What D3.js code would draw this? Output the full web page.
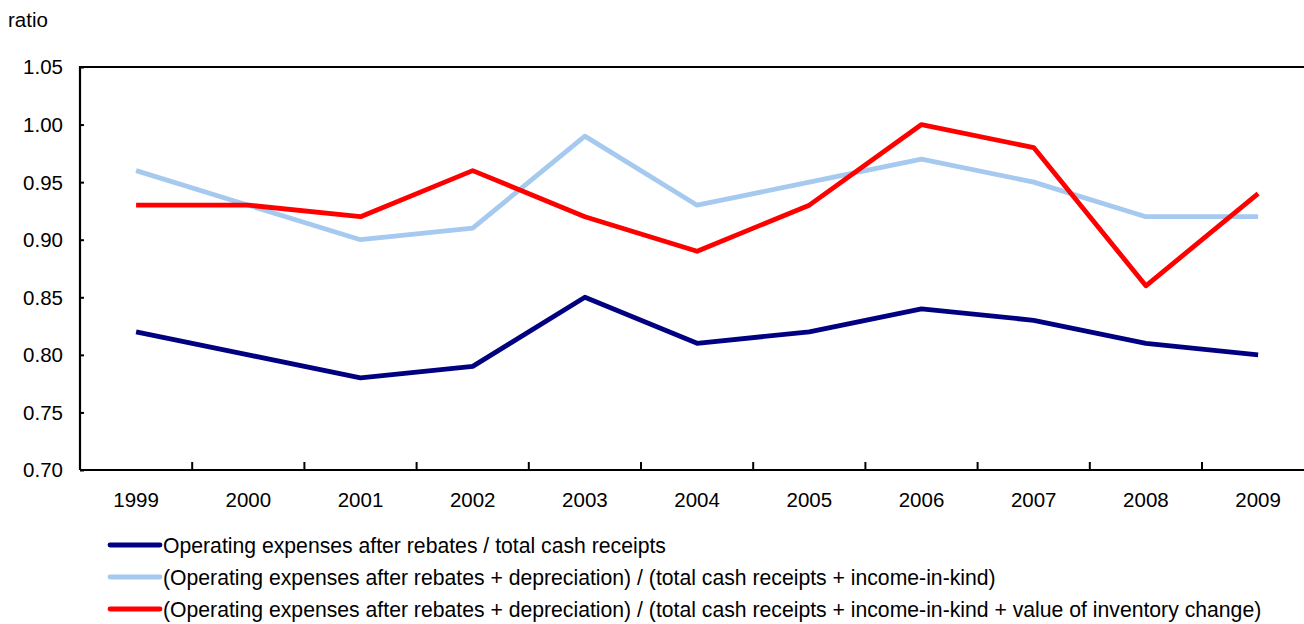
<!DOCTYPE html>
<html>
<head>
<meta charset="utf-8">
<script src="https://cdn.jsdelivr.net/npm/d3@7"></script>
<style>
  body { margin: 0; background: #fff; }
  text { font-family: "Liberation Sans", Arial, sans-serif; fill: #000; }
</style>
</head>
<body>
<svg id="chart" width="1304" height="624"></svg>
<script>
// chart data
const years = ['1999', '2000', '2001', '2002', '2003', '2004', '2005', '2006', '2007', '2008', '2009'];
const opCash = [0.82, 0.80, 0.78, 0.79, 0.85, 0.81, 0.82, 0.84, 0.83, 0.81, 0.80];
const opDepKind = [0.96, 0.93, 0.90, 0.91, 0.99, 0.93, 0.95, 0.97, 0.95, 0.92, 0.92];
const opDepKindInv = [0.93, 0.93, 0.92, 0.96, 0.92, 0.89, 0.93, 1.00, 0.98, 0.86, 0.94];
const yTicks = [0.70, 0.75, 0.80, 0.85, 0.90, 0.95, 1.00, 1.05];

const series = [
  { name: 'Operating expenses after rebates / total cash receipts', values: opCash, color: '#000080' },
  { name: '(Operating expenses after rebates + depreciation) / (total cash receipts + income-in-kind)', values: opDepKind, color: '#a6c9ef' },
  { name: '(Operating expenses after rebates + depreciation) / (total cash receipts + income-in-kind + value of inventory change)', values: opDepKindInv, color: '#ff0000' }
];

const svg = d3.select('#chart');
let fontSize = 20.5,
    legendFontSize = 21.2;

// plot area
let plotLeft = 80,
    plotTop = 67,
    plotBottom = 470,
    bandW = 112.2,
    plotRight = plotLeft + bandW * years.length;

let x = d3.scaleBand().domain(years).range([plotLeft, plotRight]);
let y = d3.scaleLinear().domain([0.70, 1.05]).range([plotBottom, plotTop]);

// frame (right edge falls off the canvas)
svg.append('path')
  .attr('d', `M${plotLeft},${plotBottom}V${plotTop}H${plotRight}`)
  .attr('fill', 'none')
  .attr('stroke', '#000')
  .attr('stroke-width', 2.2);

// y axis
let yAxis = svg.append('g')
  .attr('transform', `translate(${plotLeft},0)`)
  .call(d3.axisRight(y).tickValues(yTicks).tickSize(4).tickFormat(''));
yAxis.select('.domain').remove();
yAxis.selectAll('line').attr('stroke', '#000').attr('stroke-width', 2);

svg.append('g').selectAll('text')
  .data(yTicks)
  .join('text')
  .attr('x', 63)
  .attr('y', d => y(d))
  .attr('dy', '0.36em')
  .attr('text-anchor', 'end')
  .attr('font-size', fontSize)
  .text(d => d.toFixed(2));

// x axis
svg.append('line')
  .attr('x1', plotLeft).attr('x2', plotRight)
  .attr('y1', plotBottom).attr('y2', plotBottom)
  .attr('stroke', '#000').attr('stroke-width', 2.2);

svg.append('g').selectAll('line')
  .data(years.slice(1))
  .join('line')
  .attr('x1', d => x(d)).attr('x2', d => x(d))
  .attr('y1', plotBottom).attr('y2', plotBottom - 8)
  .attr('stroke', '#000').attr('stroke-width', 2);

svg.append('g').selectAll('text')
  .data(years)
  .join('text')
  .attr('x', d => x(d) + x.bandwidth() / 2)
  .attr('y', 507)
  .attr('text-anchor', 'middle')
  .attr('font-size', fontSize)
  .text(d => d);

svg.append('text')
  .attr('x', 8)
  .attr('y', 27)
  .attr('font-size', fontSize)
  .text('ratio');

// lines
let line = d3.line()
  .x((d, i) => x(years[i]) + x.bandwidth() / 2)
  .y(d => y(d));

svg.append('g').selectAll('path')
  .data(series)
  .join('path')
  .attr('d', d => line(d.values))
  .attr('fill', 'none')
  .attr('stroke', d => d.color)
  .attr('stroke-width', 4.8)
  .attr('stroke-linejoin', 'round');

// legend
let legend = svg.append('g').selectAll('g')
  .data(series)
  .join('g')
  .attr('transform', (d, i) => `translate(110,${545 + i * 32})`);

legend.append('line')
  .attr('x1', 0).attr('x2', 50)
  .attr('stroke', d => d.color)
  .attr('stroke-width', 4.8)
  .attr('stroke-linecap', 'round');

legend.append('text')
  .attr('x', 53)
  .attr('dy', '0.36em')
  .attr('font-size', legendFontSize)
  .text(d => d.name);
</script>
</body>
</html>
